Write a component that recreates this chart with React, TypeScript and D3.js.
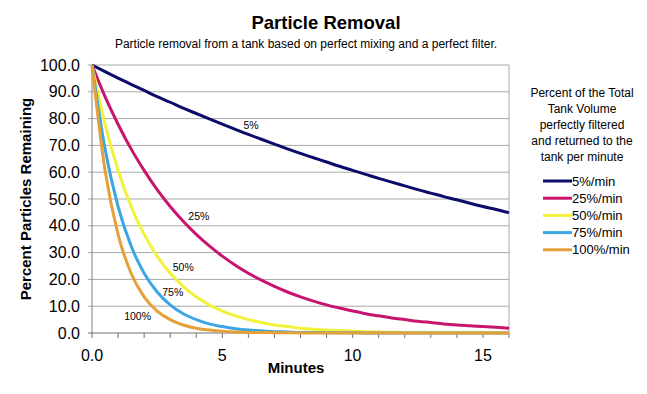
import React from "react";
import * as d3 from "d3";

// minutes sampled every half minute
const minutes = [
  0, 0.5, 1, 1.5, 2, 2.5, 3, 3.5, 4, 4.5, 5, 5.5, 6, 6.5, 7, 7.5, 8, 8.5, 9, 9.5,
  10, 10.5, 11, 11.5, 12, 12.5, 13, 13.5, 14, 14.5, 15, 15.5, 16,
];

const rate5 = [
  100.0, 97.5, 95.1, 92.8, 90.5, 88.2, 86.1, 83.9, 81.9, 79.9, 77.9, 76.0, 74.1, 72.3, 70.5, 68.7,
  67.0, 65.4, 63.8, 62.2, 60.7, 59.2, 57.7, 56.3, 54.9, 53.5, 52.2, 50.9, 49.7, 48.4, 47.2, 46.1, 44.9,
];
const rate25 = [
  100.0, 88.2, 77.9, 68.7, 60.7, 53.5, 47.2, 41.7, 36.8, 32.5, 28.7, 25.3, 22.3, 19.7, 17.4, 15.3,
  13.5, 11.9, 10.5, 9.3, 8.2, 7.2, 6.4, 5.6, 5.0, 4.4, 3.9, 3.4, 3.0, 2.7, 2.4, 2.1, 1.8,
];
const rate50 = [
  100.0, 77.9, 60.7, 47.2, 36.8, 28.7, 22.3, 17.4, 13.5, 10.5, 8.2, 6.4, 5.0, 3.9, 3.0, 2.4,
  1.8, 1.4, 1.1, 0.9, 0.7, 0.5, 0.4, 0.3, 0.2, 0.2, 0.2, 0.1, 0.1, 0.1, 0.1, 0.0, 0.0,
];
const rate75 = [
  100.0, 68.7, 47.2, 32.5, 22.3, 15.3, 10.5, 7.2, 5.0, 3.4, 2.4, 1.6, 1.1, 0.8, 0.5, 0.4,
  0.2, 0.2, 0.1, 0.1, 0.1, 0.0, 0.0, 0.0, 0.0, 0.0, 0.0, 0.0, 0.0, 0.0, 0.0, 0.0, 0.0,
];
const rate100 = [
  100.0, 60.7, 36.8, 22.3, 13.5, 8.2, 5.0, 3.0, 1.8, 1.1, 0.7, 0.4, 0.2, 0.2, 0.1, 0.1,
  0.0, 0.0, 0.0, 0.0, 0.0, 0.0, 0.0, 0.0, 0.0, 0.0, 0.0, 0.0, 0.0, 0.0, 0.0, 0.0, 0.0,
];

const seriesNames = ["5%/min", "25%/min", "50%/min", "75%/min", "100%/min"];
const seriesValues = [rate5, rate25, rate50, rate75, rate100];
const seriesColors = ["#0c0c6a", "#c8146e", "#f2f23a", "#3ca6e4", "#e6a038"];

// in-plot labels, anchored in data units (minutes, percent)
const curveLabels = ["5%", "25%", "50%", "75%", "100%"];
const curveLabelAt: [number, number][] = [
  [6.1, 77.6],
  [4.1, 43.8],
  [3.5, 24.7],
  [3.1, 15.3],
  [1.75, 6.5],
];

const yTicks = [0, 10, 20, 30, 40, 50, 60, 70, 80, 90, 100];
const xMinor = d3.range(0, 17);
const xTickValues = [0, 5, 10, 15];
const xTickLabels = ["0.0", "5", "10", "15"];

const legendTitle = [
  "Percent of the Total",
  "Tank Volume",
  "perfectly filtered",
  "and returned to the",
  "tank per minute",
];

const font = "'Liberation Sans', Arial, sans-serif";

export default function App() {
  const width = 647;
  const height = 394;
  const x = d3.scaleLinear().domain([0, 16]).range([92, 509]);
  const y = d3.scaleLinear().domain([0, 100]).range([333, 65]);
  const fmt = d3.format(".1f");

  const line = d3
    .line<number>()
    .x((_, i) => x(minutes[i]))
    .y((d) => y(d))
    .curve(d3.curveMonotoneX);

  return (
    <svg
      width={width}
      height={height}
      style={{ position: "absolute", left: 0, top: 0, background: "#fff" }}
      fontFamily={font}
    >
      <rect width={width} height={height} fill="#fff" />
      <text x={326} y={29} textAnchor="middle" fontSize={18.5} fontWeight="bold">
        Particle Removal
      </text>
      <text x={306} y={48} textAnchor="middle" fontSize={12}>
        Particle removal from a tank based on perfect mixing and a perfect filter.
      </text>

      {/* grid */}
      {yTicks.map((t) => (
        <g key={t}>
          <line x1={x(0) - 4} x2={x(16)} y1={y(t)} y2={y(t)} stroke={t === 0 ? "#707070" : "#a8a8a8"} />
          <text x={80} y={y(t) + 5.5} textAnchor="end" fontSize={16}>
            {fmt(t)}
          </text>
        </g>
      ))}
      <line x1={x(0)} x2={x(0)} y1={y(100)} y2={y(0)} stroke="#808080" />
      <line x1={x(16)} x2={x(16)} y1={y(100)} y2={y(0)} stroke="#a8a8a8" />
      {xMinor.map((m) => (
        <line key={m} x1={x(m)} x2={x(m)} y1={y(0)} y2={y(0) + 5} stroke="#707070" />
      ))}
      {xTickValues.map((v, i) => (
        <text key={v} x={x(v)} y={361} textAnchor="middle" fontSize={16}>
          {xTickLabels[i]}
        </text>
      ))}
      <text x={296} y={373} textAnchor="middle" fontSize={15} fontWeight="bold">
        Minutes
      </text>
      <text
        transform={`translate(31 ${y(50)}) rotate(-90)`}
        textAnchor="middle"
        fontSize={15}
        fontWeight="bold"
      >
        Percent Particles Remaining
      </text>

      {/* curves */}
      {seriesValues.map((vals, i) => (
        <path key={seriesNames[i]} d={line(vals) ?? ""} fill="none" stroke={seriesColors[i]} strokeWidth={3} />
      ))}
      {curveLabels.map((lab, i) => (
        <text
          key={lab}
          x={x(curveLabelAt[i][0])}
          y={y(curveLabelAt[i][1]) + 4}
          textAnchor="middle"
          fontSize={10.5}
        >
          {lab}
        </text>
      ))}

      {/* legend */}
      {legendTitle.map((t, i) => (
        <text key={t} x={582} y={97 + i * 16} textAnchor="middle" fontSize={12}>
          {t}
        </text>
      ))}
      {seriesNames.map((n, i) => (
        <g key={n} transform={`translate(543 ${181 + i * 17.2})`}>
          <line x1={0} x2={29} y1={0} y2={0} stroke={seriesColors[i]} strokeWidth={3} />
          <text x={29} y={4.5} fontSize={13}>
            {n}
          </text>
        </g>
      ))}
    </svg>
  );
}
